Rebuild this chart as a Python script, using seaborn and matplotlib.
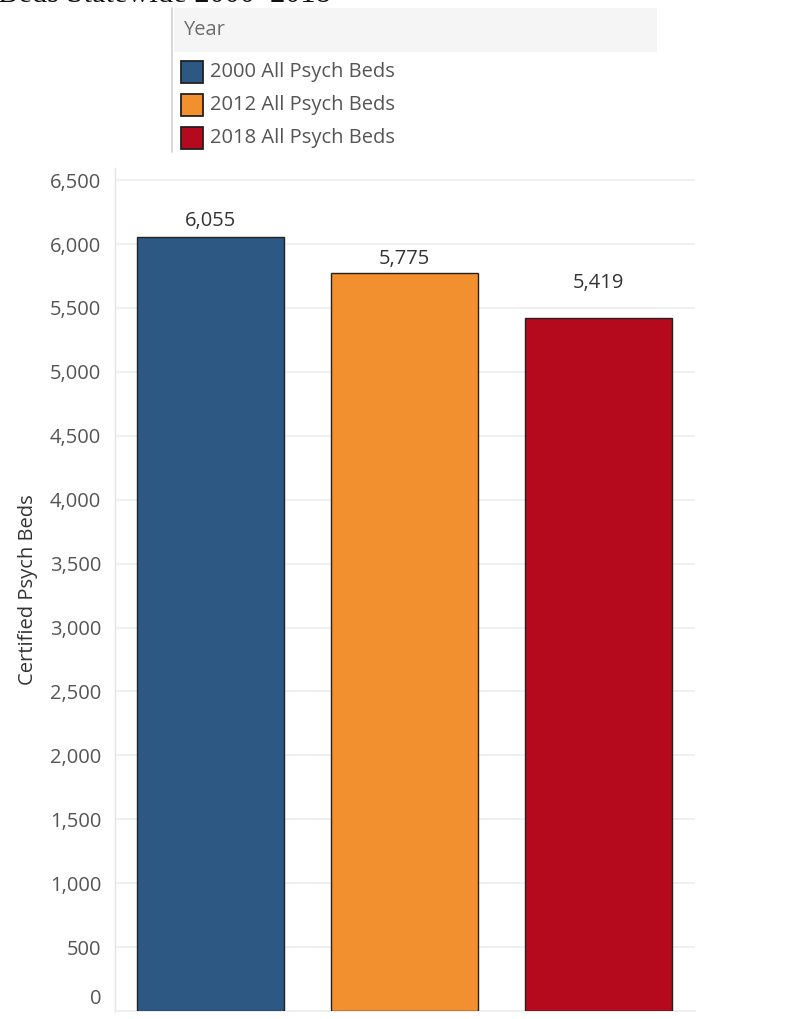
import matplotlib
matplotlib.use("Agg")
import matplotlib.pyplot as plt
from matplotlib.patches import Rectangle
from matplotlib.lines import Line2D
from matplotlib.transforms import ScaledTranslation
import seaborn as sns
import pandas as pd

# Data
categories = ["2000 All Psych Beds", "2012 All Psych Beds", "2018 All Psych Beds"]
beds = [6055, 5775, 5419]
colors = ["#2c5883", "#f28f2f", "#b50a1e"]
y_ticks = [0, 500, 1000, 1500, 2000, 2500, 3000, 3500, 4000, 4500, 5000, 5500, 6000, 6500]
legend_title = "Year"
y_title = "Certified Psych Beds"
page_title = "Beds Statewide 2000\u20132018"

df = pd.DataFrame({"Year": categories, "Beds": beds})

sns.set_theme(style="white")
plt.rcParams["font.family"] = ["Open Sans", "DejaVu Sans"]

W, H = 805, 1019
fig = plt.figure(figsize=(W / 100, H / 100), dpi=100)


def fx(px):
    return px / W


def fy(py):
    return 1 - py / H


ax = fig.add_axes([fx(115), fy(1011), fx(695) - fx(115), fy(168) - fy(1011)])

sns.barplot(data=df, x="Year", y="Beds", hue="Year", palette=colors,
            order=categories, hue_order=categories, legend=False,
            saturation=1, width=0.76, edgecolor="#222222", linewidth=1.0,
            ax=ax, zorder=3)

ax.set_xlim(-0.494, 2.5)
ax.set_ylim(0, 6595)
ax.set_yticks(y_ticks)
ax.set_yticklabels([f"{v:,}" for v in y_ticks])
ax.set_xticks([])
ax.set_xlabel("")
ax.set_ylabel(y_title, fontsize=14.5, color="#333333")
ax.yaxis.set_label_coords(-0.133, 0.5)
ax.tick_params(axis="y", length=0, pad=10, labelsize=14.5, labelcolor="#555555")

ax.grid(axis="y", color="#efefef", linewidth=1.3, zorder=0)
ax.set_axisbelow(True)
for side in ["top", "right"]:
    ax.spines[side].set_visible(False)
ax.spines["left"].set_color("#e4e4e4")
ax.spines["left"].set_linewidth(1.0)
ax.spines["bottom"].set_color("#eeeeee")
ax.spines["bottom"].set_linewidth(1.3)

# the zero label sits a little above the baseline
zero_label = ax.get_yticklabels()[0]
zero_label.set_transform(zero_label.get_transform() +
                         ScaledTranslation(0, 14 / 100, fig.dpi_scale_trans))

# value labels above each bar
label_pads = [4, 3, 18]
for cont in ax.containers:
    for bar, value in zip(cont, cont.datavalues):
        i = int(round(bar.get_x() + bar.get_width() / 2))
        ax.annotate(f"{value:,.0f}", xy=(bar.get_x() + bar.get_width() / 2, value),
                    xytext=(0, label_pads[i]), textcoords="offset points",
                    ha="center", va="bottom", fontsize=14.5, color="#333333")

# heading running off the top of the page
fig.text(fx(-2), fy(2), page_title, family="Liberation Serif", fontsize=22,
         color="#111111", va="baseline", ha="left")

# legend panel
fig.add_artist(Rectangle((fx(174), fy(52)), fx(657) - fx(174), fy(8) - fy(52),
                         transform=fig.transFigure, facecolor="#f5f5f5",
                         edgecolor="none"))
fig.add_artist(Line2D([fx(172), fx(172)], [fy(8), fy(152)],
                      transform=fig.transFigure, color="#d6d6d6", linewidth=1.3))
fig.text(fx(183), fy(30), legend_title, fontsize=14.5, color="#6e6e6e",
         va="center", ha="left")
row_centers = [72, 105, 138]
for label, color, yc in zip(categories, colors, row_centers):
    fig.add_artist(Rectangle((fx(181), fy(yc + 11)), fx(203) - fx(181),
                             fy(yc - 11) - fy(yc + 11),
                             transform=fig.transFigure, facecolor=color,
                             edgecolor="#222222", linewidth=1.3))
    fig.text(fx(210), fy(yc), label, fontsize=14.5, color="#555555",
             va="center", ha="left")

fig.savefig("out.png", dpi=100)
